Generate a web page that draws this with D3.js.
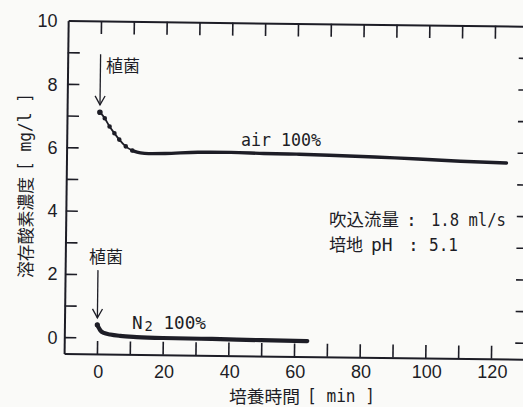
<!DOCTYPE html>
<html><head><meta charset="utf-8">
<script src="https://cdn.jsdelivr.net/npm/d3@7"></script>
<style>
html,body{margin:0;padding:0;background:#fafaf8;}
svg{display:block;}
</style></head>
<body>
<svg id="c" width="523" height="407"></svg>
<script>
// ---- data ----
const airT = [0, 1.5, 3, 4.5, 6, 8, 10, 12.5, 15, 20, 30, 40, 50, 60, 70, 80, 90, 100, 110, 120, 124];
const airV = [7.12, 6.93, 6.67, 6.46, 6.26, 6.05, 5.92, 5.85, 5.83, 5.84, 5.89, 5.90, 5.88, 5.87, 5.85, 5.82, 5.79, 5.75, 5.71, 5.68, 5.67];
const n2T = [0, 0.5, 1, 2, 4, 7, 12, 20, 35, 50, 64];
const n2V = [0.40, 0.30, 0.22, 0.15, 0.10, 0.06, 0.03, 0.01, 0.0, -0.02, -0.03];
const xTicks = [0, 10, 20, 30, 40, 50, 60, 70, 80, 90, 100, 110, 120];
const xLabels = [0, 20, 40, 60, 80, 100, 120];
const yTicks = [0, 1, 2, 3, 4, 5, 6, 7, 8, 9];
const yLabels = [0, 2, 4, 6, 8, 10];

const ink = "#1d1d26";
const svg = d3.select("#c");
const x = d3.scaleLinear().domain([-10, 131]).range([66, 529]);
const y = d3.scaleLinear().domain([-0.52, 10]).range([356, 23]);

// rotated group (scan skew)
const g = svg.append("g").attr("transform", "rotate(0.7,262,200)");

function styleAxis(sel){
  sel.selectAll("path.domain").attr("stroke", ink).attr("stroke-width", 2);
  sel.selectAll(".tick line").attr("stroke", ink).attr("stroke-width", 1.6);
  sel.selectAll("text").remove();
}
g.append("g").attr("transform","translate(66,0)")
  .call(d3.axisLeft(y).tickValues(yTicks).tickSize(-12).tickSizeOuter(0).tickFormat(""))
  .call(styleAxis);
g.append("g").attr("transform","translate(529,0)")
  .call(d3.axisRight(y).tickValues(yTicks).tickSize(-12).tickSizeOuter(0).tickFormat(""))
  .call(styleAxis);
g.append("g").attr("transform","translate(0,356)")
  .call(d3.axisBottom(x).tickValues(xTicks).tickSize(-13).tickSizeOuter(0).tickFormat(""))
  .call(styleAxis);
g.append("g").attr("transform","translate(0,23)")
  .call(d3.axisTop(x).tickValues(xTicks).tickSize(-13).tickSizeOuter(0).tickFormat(""))
  .call(styleAxis);

// data lines
const air = airT.map((t,i)=>({t, v: airV[i]}));
const n2 = n2T.map((t,i)=>({t, v: n2V[i]}));
const line = d3.line().x(d=>x(d.t)).y(d=>y(d.v)).curve(d3.curveMonotoneX);
const airHead = air.filter(d=>d.t<=10);
const airTail = air.filter(d=>d.t>=10);
g.append("path").attr("d", line(airHead)).attr("fill","none").attr("stroke",ink).attr("stroke-width",1.8);
g.selectAll("circle.air").data(airHead).enter().append("circle")
  .attr("cx",d=>x(d.t)).attr("cy",d=>y(d.v)).attr("r",(d,i)=>i===0?2.8:2.3).attr("fill",ink);
g.append("path").attr("d", line(airTail)).attr("fill","none").attr("stroke",ink).attr("stroke-width",3.4).attr("stroke-linecap","round");
g.append("path").attr("d", line(n2)).attr("fill","none").attr("stroke",ink).attr("stroke-width",4.2).attr("stroke-linecap","round");
g.append("circle").attr("cx",x(n2[0].t)).attr("cy",y(n2[0].v)).attr("r",2.6).attr("fill",ink);

// arrows
function arrow(t, vTop, vTip){
  const ax = x(t), y1 = y(vTop), y2 = y(vTip);
  g.append("line").attr("x1",ax).attr("x2",ax).attr("y1",y1).attr("y2",y2).attr("stroke",ink).attr("stroke-width",1.3);
  g.append("path").attr("d",`M${ax-5},${y2-9}L${ax},${y2}L${ax+5},${y2-9}`).attr("fill","none").attr("stroke",ink).attr("stroke-width",1.3);
}
arrow(0, 8.95, 7.35);
arrow(0, 2.13, 0.62);

// ---- texts (not skewed) ----
const T = svg.append("g").attr("fill", ink);
const numFont = "'Liberation Sans Narrow', 'Arial Narrow', 'Liberation Sans', Arial, sans-serif";
const jpFont = "'Noto Sans CJK JP', sans-serif";
const monoFont = "'DejaVu Sans Mono', monospace";

const xl = T.append("g").attr("transform","translate(-1,356)")
  .call(d3.axisBottom(x).tickValues(xLabels).tickSize(0).tickPadding(9.5).tickFormat(d3.format("d")));
xl.select("path.domain").remove();
xl.selectAll("text").attr("fill",ink).style("font-family",numFont).style("font-size","18px");

const yl = T.append("g").attr("transform","translate(66,-2)")
  .call(d3.axisLeft(y).tickValues(yLabels).tickSize(0).tickPadding(8.5).tickFormat(d3.format("d")));
yl.select("path.domain").remove();
yl.selectAll("text").attr("fill",ink).style("font-family",numFont).style("font-size","18px");

function txt(s, xx, yy, font, size, len){
  const t = T.append("text").attr("x",xx).attr("y",yy).text(s)
    .style("font-family",font).style("font-size",size+"px");
  if(len) t.attr("textLength",len).attr("lengthAdjust","spacingAndGlyphs");
  return t;
}
// annotations
txt("植菌", 106, 72, jpFont, 17);
txt("植菌", 89, 263, jpFont, 17);
txt("air 100%", 241, 146, monoFont, 18, 80);
const n2t = T.append("text").attr("x",132).attr("y",329).style("font-family",monoFont).style("font-size","18px");
n2t.append("tspan").text("N");
n2t.append("tspan").attr("dx",2).attr("dy",2).style("font-size","14px").text("2");
n2t.append("tspan").attr("dy",-2).text(" 100%");
n2t.attr("textLength",74).attr("lengthAdjust","spacingAndGlyphs");

txt("吹込流量", 329, 226, jpFont, 17, 70);
txt(":", 406, 226, monoFont, 18);
txt("1.8 ml/s", 431, 226, monoFont, 18, 75);
txt("培地", 329, 251, jpFont, 17, 34);
txt("pH", 371, 251, monoFont, 18);
txt(":", 408, 251, monoFont, 18);
txt("5.1", 429, 251, monoFont, 18, 29);

// axis titles
txt("培養時間", 229, 403, jpFont, 17, 71);
txt("[ min ]", 307, 402, monoFont, 18, 68);
T.append("text").attr("transform","translate(32,278) rotate(-90)").text("溶存酸素濃度")
  .style("font-family",jpFont).style("font-size","16.5px").attr("textLength",101).attr("lengthAdjust","spacingAndGlyphs");
T.append("text").attr("transform","translate(31,171) rotate(-90)").text("[ mg/l ]")
  .style("font-family",monoFont).style("font-size","17px").attr("textLength",78).attr("lengthAdjust","spacingAndGlyphs");
</script>
</body></html>
